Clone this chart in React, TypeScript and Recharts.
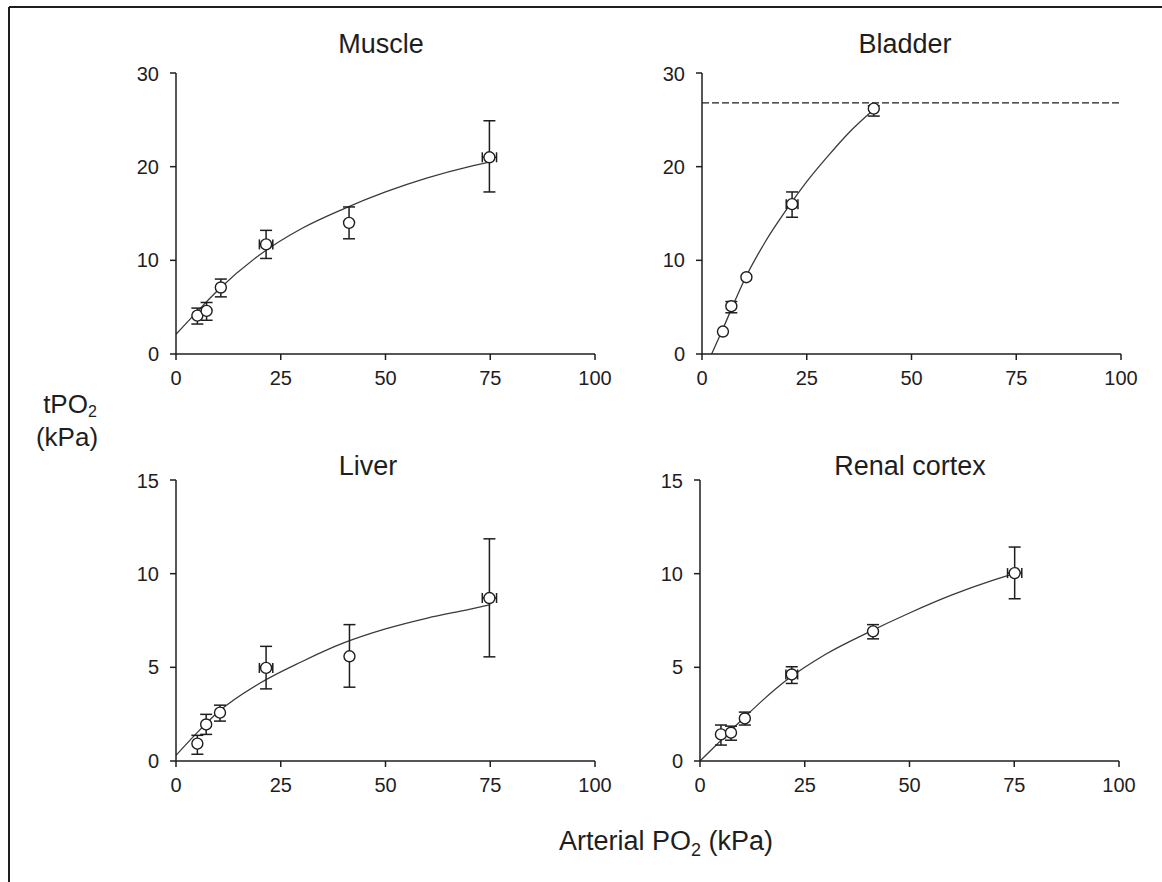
import React from 'react';
import { ComposedChart, Line, Scatter, XAxis, YAxis, ErrorBar, ReferenceLine } from 'recharts';

const FONT = '"Liberation Sans", Arial, Helvetica, sans-serif';
const INK = '#1e1e1e';

const xTicks = [0, 25, 50, 75, 100];
const topTicks = [0, 10, 20, 30];
const bottomTicks = [0, 5, 10, 15];

// Muscle
const muscleX = [5.1, 7.3, 10.7, 21.5, 41.3, 74.8];
const muscleY = [4.1, 4.6, 7.1, 11.7, 14.0, 21.0];
const muscleYErr = [[0.9, 0.8], [1.0, 0.9], [1.0, 0.9], [1.5, 1.5], [1.7, 1.7], [3.7, 3.9]];
const muscleXErr = [null, null, null, 1.6, null, 1.7];
const muscleFitX = [0, 5, 10, 20, 30, 40, 50, 60, 70, 75];
const muscleFitY = [2.1, 4.5, 6.8, 10.6, 13.4, 15.5, 17.3, 18.8, 20.0, 20.5];

// Bladder
const bladderX = [5.0, 7.0, 10.6, 21.5, 41.0];
const bladderY = [2.4, 5.1, 8.2, 16.0, 26.2];
const bladderYErr = [null, [0.7, 0.5], null, [1.4, 1.3], [0.8, 0.3]];
const bladderXErr = [null, null, null, 1.4, null];
const bladderFitX = [2.3, 5, 7.5, 10, 15, 20, 25, 30, 35, 41];
const bladderFitY = [0, 2.7, 5.3, 7.8, 11.9, 15.3, 18.4, 21.1, 23.6, 26.1];
const bladderMax = 26.8;

// Liver
const liverX = [5.1, 7.2, 10.5, 21.5, 41.4, 74.8];
const liverY = [0.93, 1.95, 2.58, 4.97, 5.59, 8.7];
const liverYErr = [[0.57, 0.44], [0.53, 0.54], [0.45, 0.4], [1.12, 1.15], [1.65, 1.69], [3.14, 3.16]];
const liverXErr = [null, null, null, 1.6, null, 1.7];
const liverFitX = [0, 5, 10, 20, 30, 40, 50, 60, 70, 75];
const liverFitY = [0.3, 1.5, 2.6, 4.15, 5.3, 6.3, 7.05, 7.63, 8.1, 8.35];

// Renal cortex
const renalX = [5.0, 7.4, 10.7, 21.9, 41.3, 75.1];
const renalY = [1.42, 1.51, 2.27, 4.62, 6.92, 10.03];
const renalYErr = [[0.57, 0.5], [0.4, 0.35], [0.35, 0.34], [0.48, 0.41], [0.4, 0.36], [1.37, 1.39]];
const renalXErr = [null, null, null, 1.4, null, 1.7];
const renalFitX = [0, 5, 10, 15, 20, 25, 30, 40, 50, 60, 70, 75];
const renalFitY = [0, 1.1, 2.2, 3.25, 4.2, 5.0, 5.7, 6.85, 7.9, 8.85, 9.65, 10.0];

const toPoints = (xs: number[], ys: number[], ey: any[], ex: any[]) =>
  xs.map((x, i) => ({ x, y: ys[i], ey: ey[i], ex: ex[i] }));
const toCurve = (xs: number[], ys: number[]) => xs.map((x, i) => ({ x, y: ys[i] }));

const tickStyle = { fill: INK, fontSize: 20, fontFamily: FONT };

const Dot = (props: any) => (
  <circle cx={props.cx} cy={props.cy} r={5.5} fill="#fff" stroke={INK} strokeWidth={1.4} />
);

interface PanelProps {
  left: number;
  top: number;
  yMax: number;
  yTicks: number[];
  points: any[];
  curve: any[];
  refY?: number;
}

const Panel: React.FC<PanelProps> = ({ left, top, yMax, yTicks, points, curve, refY }) => (
  <div style={{ position: 'absolute', left, top }}>
    <ComposedChart width={515} height={337} margin={{ top: 11, right: 20, bottom: 5, left: 0 }}>
      <XAxis
        type="number"
        dataKey="x"
        domain={[0, 100]}
        ticks={xTicks}
        height={40}
        tickSize={6}
        tickMargin={11}
        tick={tickStyle}
        stroke={INK}
        strokeWidth={1.5}
        allowDataOverflow
      />
      <YAxis
        type="number"
        dataKey="y"
        domain={[0, yMax]}
        ticks={yTicks}
        width={76}
        tickSize={6}
        tickMargin={11}
        tick={tickStyle}
        stroke={INK}
        strokeWidth={1.5}
        allowDataOverflow
      />
      {refY !== undefined && (
        <ReferenceLine y={refY} stroke={INK} strokeWidth={1.3} strokeDasharray="7 3" />
      )}
      <Line
        data={curve}
        dataKey="y"
        type="monotone"
        dot={false}
        activeDot={false}
        stroke="#3a3a3a"
        strokeWidth={1.3}
        isAnimationActive={false}
      />
      <Scatter data={points} dataKey="y" shape={Dot} isAnimationActive={false}>
        <ErrorBar dataKey="ey" direction="y" width={6} stroke={INK} strokeWidth={1.5} />
        <ErrorBar dataKey="ex" direction="x" width={5} stroke={INK} strokeWidth={1.5} />
      </Scatter>
    </ComposedChart>
  </div>
);

export default function App() {
  return (
    <div
      style={{
        position: 'absolute',
        left: 0,
        top: 0,
        width: 1162,
        height: 882,
        background: '#fff',
        fontFamily: FONT,
        overflow: 'hidden',
      }}
    >
      <Panel left={100} top={62} yMax={30} yTicks={topTicks}
        points={toPoints(muscleX, muscleY, muscleYErr, muscleXErr)}
        curve={toCurve(muscleFitX, muscleFitY)} />
      <Panel left={626} top={62} yMax={30} yTicks={topTicks}
        points={toPoints(bladderX, bladderY, bladderYErr, bladderXErr)}
        curve={toCurve(bladderFitX, bladderFitY)} refY={bladderMax} />
      <Panel left={100} top={469} yMax={15} yTicks={bottomTicks}
        points={toPoints(liverX, liverY, liverYErr, liverXErr)}
        curve={toCurve(liverFitX, liverFitY)} />
      <Panel left={624} top={469} yMax={15} yTicks={bottomTicks}
        points={toPoints(renalX, renalY, renalYErr, renalXErr)}
        curve={toCurve(renalFitX, renalFitY)} />

      <svg width={1162} height={882} style={{ position: 'absolute', left: 0, top: 0, pointerEvents: 'none' }}>
        <line x1={9} y1={7} x2={9} y2={882} stroke={INK} strokeWidth={2} />
        <line x1={9} y1={7} x2={1162} y2={7} stroke={INK} strokeWidth={2} />
        <g fontFamily={FONT} fill={INK} fontSize={27} textAnchor="middle">
          <text x={381} y={53}>Muscle</text>
          <text x={905} y={53}>Bladder</text>
          <text x={368} y={475}>Liver</text>
          <text x={910} y={475}>Renal cortex</text>
        </g>
        <g fontFamily={FONT} fill={INK} fontSize={26} textAnchor="middle">
          <text x={70} y={413}>
            tPO<tspan fontSize={16} dy={4}>2</tspan>
          </text>
          <text x={67} y={446}>(kPa)</text>
          <text x={666} y={850} fontSize={27}>
            Arterial PO<tspan fontSize={18} dy={6}>2</tspan>
            <tspan dy={-6}> (kPa)</tspan>
          </text>
        </g>
      </svg>
    </div>
  );
}
